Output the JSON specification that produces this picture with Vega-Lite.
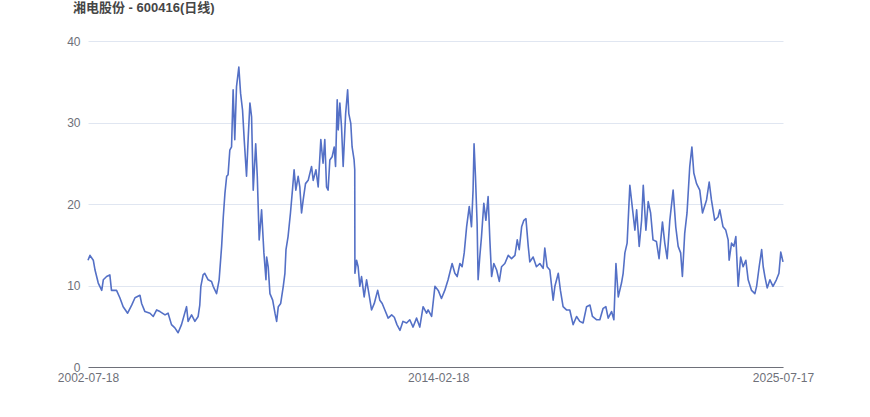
{
  "$schema": "https://vega.github.io/schema/vega-lite/v6.json",
  "width": 695,
  "height": 326,
  "autosize": {"type": "none"},
  "padding": {"left": 88, "top": 41, "right": 87, "bottom": 50},
  "background": "#ffffff",
  "title": {
    "text": "湘电股份 - 600416(日线)",
    "anchor": "start",
    "frame": "group",
    "dx": -15,
    "offset": 20,
    "fontSize": 13,
    "fontWeight": "bold",
    "color": "#464646",
    "font": "Liberation Sans, Noto Sans CJK SC"
  },
  "config": {
    "view": {"stroke": null},
    "axis": {"labelFont": "Liberation Sans", "labelFontSize": 12, "labelColor": "#6e7079"}
  },
  "data": {
    "values": [
      {"date":"2002-07-18","close":13.1},{"date":"2002-08-11","close":13.7},{"date":"2002-09-20","close":13.1},{"date":"2002-10-11","close":11.9},{"date":"2002-11-19","close":10.3},{"date":"2002-12-31","close":9.4},
      {"date":"2003-01-19","close":10.7},{"date":"2003-02-28","close":11.1},{"date":"2003-04-08","close":11.3},{"date":"2003-04-28","close":9.4},{"date":"2003-06-28","close":9.4},{"date":"2003-08-07","close":8.5},{"date":"2003-09-16","close":7.4},{"date":"2003-11-09","close":6.6},{"date":"2003-12-28","close":7.6},
      {"date":"2004-02-06","close":8.5},{"date":"2004-04-06","close":8.8},{"date":"2004-04-26","close":7.8},{"date":"2004-06-05","close":6.8},{"date":"2004-08-05","close":6.6},{"date":"2004-09-14","close":6.2},{"date":"2004-10-25","close":7.0},{"date":"2004-12-04","close":6.8},
      {"date":"2005-02-03","close":6.4},{"date":"2005-03-12","close":6.6},{"date":"2005-04-22","close":5.2},{"date":"2005-06-02","close":4.8},{"date":"2005-07-11","close":4.2},{"date":"2005-08-21","close":5.2},{"date":"2005-10-21","close":7.4},{"date":"2005-11-09","close":5.6},{"date":"2005-12-21","close":6.4},
      {"date":"2006-01-30","close":5.6},{"date":"2006-03-10","close":6.2},{"date":"2006-03-30","close":7.6},{"date":"2006-04-12","close":9.9},{"date":"2006-05-09","close":11.3},{"date":"2006-05-29","close":11.5},{"date":"2006-07-09","close":10.7},{"date":"2006-08-19","close":10.5},{"date":"2006-09-08","close":9.9},{"date":"2006-10-19","close":9.0},{"date":"2006-11-19","close":10.7},{"date":"2006-12-19","close":14.8},
      {"date":"2007-01-08","close":18.4},{"date":"2007-01-28","close":21.3},{"date":"2007-02-18","close":23.4},{"date":"2007-03-07","close":23.6},{"date":"2007-03-28","close":26.6},{"date":"2007-04-18","close":27.0},{"date":"2007-05-07","close":34.0},{"date":"2007-05-27","close":27.9},{"date":"2007-06-17","close":34.4},{"date":"2007-07-15","close":36.8},{"date":"2007-08-05","close":33.6},{"date":"2007-08-29","close":31.5},{"date":"2007-09-18","close":27.9},{"date":"2007-10-16","close":23.4},{"date":"2007-11-06","close":28.3},{"date":"2007-11-26","close":32.4},{"date":"2007-12-16","close":30.7},
      {"date":"2008-01-05","close":21.7},{"date":"2008-02-04","close":27.4},{"date":"2008-02-23","close":23.4},{"date":"2008-03-17","close":15.6},{"date":"2008-04-15","close":19.3},{"date":"2008-05-13","close":14.0},{"date":"2008-06-07","close":10.7},{"date":"2008-06-15","close":13.5},{"date":"2008-07-04","close":12.3},{"date":"2008-07-25","close":9.0},{"date":"2008-08-27","close":8.2},{"date":"2008-09-24","close":6.6},{"date":"2008-10-14","close":5.6},{"date":"2008-11-03","close":7.4},{"date":"2008-12-02","close":7.8},
      {"date":"2009-01-02","close":9.9},{"date":"2009-01-22","close":11.5},{"date":"2009-02-04","close":14.4},{"date":"2009-03-01","close":16.0},{"date":"2009-03-30","close":18.9},{"date":"2009-04-23","close":21.7},{"date":"2009-05-13","close":24.2},{"date":"2009-06-03","close":21.7},{"date":"2009-07-01","close":23.4},{"date":"2009-07-21","close":22.1},{"date":"2009-08-11","close":18.9},{"date":"2009-08-31","close":20.5},{"date":"2009-09-28","close":22.5},{"date":"2009-10-30","close":22.9},{"date":"2009-12-10","close":24.6},{"date":"2009-12-30","close":22.9},
      {"date":"2010-02-01","close":24.2},{"date":"2010-02-28","close":22.1},{"date":"2010-04-01","close":27.9},{"date":"2010-04-28","close":25.0},{"date":"2010-05-19","close":27.9},{"date":"2010-06-09","close":22.1},{"date":"2010-06-28","close":21.7},{"date":"2010-07-19","close":25.4},{"date":"2010-08-16","close":25.8},{"date":"2010-09-10","close":27.0},{"date":"2010-09-26","close":24.6},{"date":"2010-10-16","close":32.8},{"date":"2010-10-28","close":29.1},{"date":"2010-11-17","close":32.4},{"date":"2010-12-07","close":29.5},{"date":"2010-12-27","close":24.6},
      {"date":"2011-01-26","close":31.1},{"date":"2011-02-19","close":34.0},{"date":"2011-03-05","close":31.1},{"date":"2011-03-29","close":29.9},{"date":"2011-04-14","close":27.0},{"date":"2011-05-08","close":25.4},{"date":"2011-05-16","close":24.2},{"date":"2011-05-18","close":11.5},{"date":"2011-06-07","close":13.1},{"date":"2011-06-26","close":12.3},{"date":"2011-07-16","close":9.9},{"date":"2011-08-06","close":11.1},{"date":"2011-09-07","close":8.6},{"date":"2011-10-06","close":10.7},{"date":"2011-11-03","close":9.0},{"date":"2011-12-05","close":7.0},
      {"date":"2012-01-07","close":7.8},{"date":"2012-02-17","close":9.4},{"date":"2012-03-14","close":8.2},{"date":"2012-04-12","close":7.8},{"date":"2012-05-14","close":7.0},{"date":"2012-06-23","close":6.0},{"date":"2012-08-04","close":6.4},{"date":"2012-09-05","close":6.1},{"date":"2012-10-07","close":5.2},{"date":"2012-11-13","close":4.5},{"date":"2012-12-19","close":5.6},
      {"date":"2013-02-01","close":5.4},{"date":"2013-03-11","close":5.8},{"date":"2013-04-20","close":4.9},{"date":"2013-06-01","close":6.0},{"date":"2013-07-10","close":4.9},{"date":"2013-08-19","close":7.4},{"date":"2013-09-30","close":6.6},{"date":"2013-10-19","close":7.0},{"date":"2013-11-30","close":6.2},
      {"date":"2014-01-09","close":9.9},{"date":"2014-02-18","close":9.4},{"date":"2014-03-29","close":8.4},{"date":"2014-05-08","close":9.4},{"date":"2014-06-17","close":10.7},{"date":"2014-08-05","close":12.7},{"date":"2014-09-07","close":11.5},{"date":"2014-10-05","close":11.1},{"date":"2014-11-07","close":12.7},{"date":"2014-12-04","close":12.3},{"date":"2014-12-29","close":14.0},
      {"date":"2015-01-27","close":17.2},{"date":"2015-02-28","close":19.7},{"date":"2015-03-27","close":17.2},{"date":"2015-04-15","close":21.7},{"date":"2015-04-27","close":27.4},{"date":"2015-05-14","close":23.4},{"date":"2015-06-03","close":17.6},{"date":"2015-06-15","close":10.7},{"date":"2015-07-05","close":13.5},{"date":"2015-07-26","close":16.0},{"date":"2015-08-23","close":20.1},{"date":"2015-09-17","close":18.0},{"date":"2015-10-14","close":20.9},{"date":"2015-11-04","close":15.6},{"date":"2015-11-25","close":11.1},{"date":"2015-12-22","close":12.7},
      {"date":"2016-01-25","close":11.9},{"date":"2016-02-26","close":10.5},{"date":"2016-03-24","close":12.3},{"date":"2016-05-03","close":12.7},{"date":"2016-06-13","close":13.7},{"date":"2016-07-23","close":13.3},{"date":"2016-09-02","close":13.7},{"date":"2016-09-30","close":15.6},{"date":"2016-10-24","close":14.4},{"date":"2016-11-22","close":17.2},{"date":"2016-12-19","close":18.0},
      {"date":"2017-01-13","close":18.2},{"date":"2017-02-10","close":14.8},{"date":"2017-03-01","close":12.9},{"date":"2017-04-10","close":13.5},{"date":"2017-05-20","close":12.3},{"date":"2017-06-30","close":12.7},{"date":"2017-08-09","close":12.1},{"date":"2017-08-29","close":14.6},{"date":"2017-09-26","close":12.3},{"date":"2017-10-29","close":11.9},{"date":"2017-12-08","close":8.2},{"date":"2017-12-29","close":9.9},
      {"date":"2018-02-08","close":11.5},{"date":"2018-03-06","close":9.4},{"date":"2018-04-07","close":7.4},{"date":"2018-05-18","close":7.0},{"date":"2018-06-27","close":7.0},{"date":"2018-08-06","close":5.2},{"date":"2018-09-17","close":6.2},{"date":"2018-10-26","close":5.6},{"date":"2018-12-05","close":5.4},
      {"date":"2019-01-16","close":7.4},{"date":"2019-02-26","close":7.6},{"date":"2019-03-28","close":6.2},{"date":"2019-05-15","close":5.8},{"date":"2019-06-25","close":5.8},{"date":"2019-08-04","close":7.2},{"date":"2019-09-06","close":7.4},{"date":"2019-10-04","close":6.0},{"date":"2019-11-14","close":6.8},{"date":"2019-12-12","close":5.8},
      {"date":"2020-01-06","close":12.7},{"date":"2020-02-03","close":8.6},{"date":"2020-03-13","close":10.3},{"date":"2020-04-02","close":11.5},{"date":"2020-04-23","close":14.0},{"date":"2020-05-20","close":15.2},{"date":"2020-06-22","close":22.3},{"date":"2020-07-25","close":19.3},{"date":"2020-08-22","close":16.8},{"date":"2020-09-12","close":19.3},{"date":"2020-10-13","close":14.8},{"date":"2020-11-11","close":18.0},{"date":"2020-12-01","close":22.3},
      {"date":"2021-01-02","close":16.8},{"date":"2021-01-30","close":20.3},{"date":"2021-02-28","close":18.9},{"date":"2021-03-29","close":15.6},{"date":"2021-05-09","close":15.4},{"date":"2021-06-10","close":13.3},{"date":"2021-07-21","close":17.8},{"date":"2021-08-18","close":15.2},{"date":"2021-09-16","close":13.3},{"date":"2021-10-18","close":18.0},{"date":"2021-11-27","close":21.7},{"date":"2021-12-29","close":17.2},
      {"date":"2022-01-27","close":14.8},{"date":"2022-02-26","close":14.0},{"date":"2022-03-19","close":11.1},{"date":"2022-04-16","close":16.4},{"date":"2022-05-14","close":18.9},{"date":"2022-06-16","close":24.6},{"date":"2022-07-12","close":27.0},{"date":"2022-08-04","close":23.8},{"date":"2022-09-06","close":22.5},{"date":"2022-10-15","close":21.7},{"date":"2022-11-17","close":18.9},
      {"date":"2023-01-05","close":20.5},{"date":"2023-02-06","close":22.7},{"date":"2023-03-05","close":20.5},{"date":"2023-04-14","close":18.0},{"date":"2023-05-24","close":18.4},{"date":"2023-06-14","close":19.3},{"date":"2023-07-23","close":17.2},{"date":"2023-08-25","close":16.8},{"date":"2023-09-23","close":15.6},{"date":"2023-10-05","close":13.1},{"date":"2023-11-03","close":15.2},{"date":"2023-12-01","close":14.8},{"date":"2023-12-25","close":16.0},
      {"date":"2024-01-22","close":9.9},{"date":"2024-02-21","close":13.5},{"date":"2024-03-22","close":12.3},{"date":"2024-04-24","close":13.1},{"date":"2024-05-22","close":10.7},{"date":"2024-07-02","close":9.4},{"date":"2024-08-11","close":9.0},{"date":"2024-09-01","close":9.9},{"date":"2024-10-02","close":12.3},{"date":"2024-11-01","close":14.4},{"date":"2024-11-20","close":12.3},{"date":"2024-12-10","close":11.1},
      {"date":"2025-01-07","close":9.7},{"date":"2025-02-09","close":10.7},{"date":"2025-03-18","close":9.9},{"date":"2025-04-28","close":10.7},{"date":"2025-05-29","close":11.5},{"date":"2025-06-20","close":14.1},{"date":"2025-07-17","close":12.9}
    ]
  },
  "mark": {"type": "line", "color": "#5470c6", "strokeWidth": 1.6, "strokeJoin": "round"},
  "encoding": {
    "x": {
      "field": "date",
      "type": "temporal",
      "scale": {
        "type": "utc",
        "domain": [
          {"year": 2002, "month": 7, "date": 18, "utc": true},
          {"year": 2025, "month": 7, "date": 17, "utc": true}
        ]
      },
      "axis": {
        "title": null,
        "values": [
          {"year": 2002, "month": 7, "date": 18, "utc": true},
          {"year": 2014, "month": 2, "date": 18, "utc": true},
          {"year": 2025, "month": 7, "date": 17, "utc": true}
        ],
        "format": "%Y-%m-%d",
        "labelFlush": false,
        "labelOverlap": false,
        "labelAlign": "center",
        "labelPadding": 5,
        "ticks": false,
        "grid": false,
        "domain": true,
        "domainColor": "#6e7079",
        "domainWidth": 1
      }
    },
    "y": {
      "field": "close",
      "type": "quantitative",
      "scale": {"domain": [0, 40], "nice": false, "zero": true},
      "axis": {
        "title": null,
        "values": [0, 10, 20, 30, 40],
        "ticks": false,
        "domain": false,
        "grid": true,
        "gridColor": "#e0e6f1",
        "gridWidth": 1,
        "labelPadding": 8
      }
    }
  }
}
